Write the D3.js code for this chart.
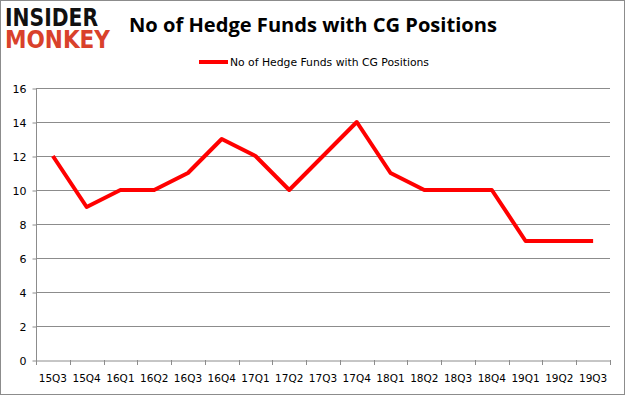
<!DOCTYPE html>
<html>
<head>
<meta charset="utf-8">
<script src="https://cdn.jsdelivr.net/npm/d3@7"></script>
<style>
  body { margin: 0; background: #fff; }
  svg { display: block; }
</style>
</head>
<body>
<svg id="chart" width="625" height="395"></svg>
<script>
// quarters on the x axis
var quarters = ["15Q3", "15Q4", "16Q1", "16Q2", "16Q3", "16Q4", "17Q1", "17Q2", "17Q3",
                "17Q4", "18Q1", "18Q2", "18Q3", "18Q4", "19Q1", "19Q2", "19Q3"];
// number of hedge funds holding CG
var funds = [12, 9, 10, 10, 11, 13, 12, 10, 12, 14, 11, 10, 10, 10, 7, 7, 7];
var yTicks = [0, 2, 4, 6, 8, 10, 12, 14, 16];

var svg = d3.select("#chart");
var W = 625, H = 395;
var margin = { top: 88, right: 15, bottom: 35, left: 36 };

// outer frame
svg.append("rect")
    .attr("x", 0.5).attr("y", 0.5)
    .attr("width", W - 1).attr("height", H - 1)
    .attr("fill", "#fff").attr("stroke", "#8c8c8c");

var x = d3.scaleBand()
    .domain(quarters)
    .range([margin.left, W - margin.right]);

var y = d3.scaleLinear()
    .domain([0, 16])
    .range([H - margin.bottom, margin.top]);

// gridlines
svg.append("g")
    .selectAll("line")
    .data(yTicks.slice(1))
    .enter().append("line")
    .attr("x1", margin.left).attr("x2", W - margin.right)
    .attr("y1", d => Math.round(y(d)) + 0.5)
    .attr("y2", d => Math.round(y(d)) + 0.5)
    .attr("stroke", "#8c8c8c");

// y axis
var yAxis = svg.append("g")
    .attr("transform", "translate(" + (margin.left + 0.5) + ",0.5)")
    .call(d3.axisLeft(y).tickValues(yTicks).tickSize(4).tickPadding(6));

// x axis
var xAxis = svg.append("g")
    .attr("transform", "translate(0," + (Math.round(y(0)) + 0.5) + ")")
    .call(d3.axisBottom(x).tickValues([]).tickSizeOuter(0));

// tick marks at category boundaries
svg.append("g")
    .selectAll("line")
    .data(quarters.concat(["end"]))
    .enter().append("line")
    .attr("x1", (d, i) => Math.round(margin.left + i * x.step()) + 0.5)
    .attr("x2", (d, i) => Math.round(margin.left + i * x.step()) + 0.5)
    .attr("y1", Math.round(y(0)))
    .attr("y2", Math.round(y(0)) + 5)
    .attr("stroke", "#8c8c8c");

svg.append("g")
    .selectAll("text")
    .data(quarters)
    .enter().append("text")
    .attr("x", d => x(d) + x.bandwidth() / 2)
    .attr("y", Math.round(y(0)) + 22)
    .attr("text-anchor", "middle")
    .attr("font-family", "DejaVu Sans")
    .attr("font-size", "10.5px")
    .attr("fill", "#000")
    .text(d => d);

[yAxis, xAxis].forEach(function (a) {
    a.selectAll("path, line").attr("stroke", "#8c8c8c");
    a.selectAll("text")
        .attr("font-family", "DejaVu Sans")
        .attr("font-size", "11px")
        .attr("fill", "#000");
});
yAxis.select(".domain").remove();
svg.append("line")
    .attr("x1", margin.left + 0.5).attr("x2", margin.left + 0.5)
    .attr("y1", margin.top).attr("y2", Math.round(y(0)))
    .attr("stroke", "#8c8c8c");

// the series line
var line = d3.line()
    .x((d, i) => x(quarters[i]) + x.bandwidth() / 2)
    .y(d => y(d));

svg.append("path")
    .datum(funds)
    .attr("d", line)
    .attr("fill", "none")
    .attr("stroke", "#ff0000")
    .attr("stroke-width", 4)
    .attr("stroke-linejoin", "round");

// title
svg.append("text")
    .attr("x", 129)
    .attr("y", 32)
    .attr("font-family", "Open Sans")
    .attr("font-weight", "700")
    .attr("font-size", "20px")
    .attr("textLength", 368)
    .attr("lengthAdjust", "spacingAndGlyphs")
    .attr("fill", "#000")
    .text("No of Hedge Funds with CG Positions");

// legend
svg.append("line")
    .attr("x1", 199).attr("x2", 228)
    .attr("y1", 62).attr("y2", 62)
    .attr("stroke", "#ff0000").attr("stroke-width", 4);
svg.append("text")
    .attr("x", 230).attr("y", 66)
    .attr("font-family", "DejaVu Sans")
    .attr("font-size", "10.8px")
    .attr("textLength", 199)
    .attr("lengthAdjust", "spacingAndGlyphs")
    .attr("fill", "#000")
    .text("No of Hedge Funds with CG Positions");

// logo
svg.append("text")
    .attr("x", 5).attr("y", 26)
    .attr("font-family", "DejaVu Sans")
    .attr("font-weight", "bold")
    .attr("font-size", "24px")
    .attr("textLength", 93)
    .attr("lengthAdjust", "spacingAndGlyphs")
    .attr("fill", "#111")
    .text("INSIDER");
svg.append("text")
    .attr("x", 5).attr("y", 48)
    .attr("font-family", "DejaVu Sans")
    .attr("font-weight", "bold")
    .attr("font-size", "24px")
    .attr("textLength", 105)
    .attr("lengthAdjust", "spacingAndGlyphs")
    .attr("fill", "#d9412b")
    .text("MONKEY");
</script>
</body>
</html>
